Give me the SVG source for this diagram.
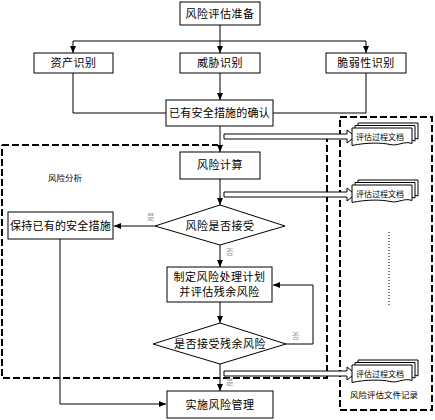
<svg xmlns="http://www.w3.org/2000/svg" xmlns:xlink="http://www.w3.org/1999/xlink" width="435" height="420" viewBox="0 0 435 420">
<style>
.box{fill:#fff;stroke:#000;stroke-width:1}
.t{font-family:"Noto Sans CJK SC","Noto Sans",sans-serif;font-size:11px;letter-spacing:0.5px;text-anchor:middle;fill:#000}
.ts{font-family:"Noto Sans CJK SC","Noto Sans",sans-serif;font-size:8px;text-anchor:middle;fill:#000}
.tl{font-family:"Noto Sans CJK SC","Noto Sans",sans-serif;font-size:7.5px;fill:#999}
.ln{fill:none;stroke:#000;stroke-width:1}
.arr{marker-end:url(#ah)}
.dash{fill:none;stroke:#000;stroke-width:2;stroke-dasharray:7,3}
.blk{fill:#fff;stroke:#000;stroke-width:1}
.pg{fill:#fff;stroke:#000;stroke-width:1}
</style>
<defs>
<marker id="ah" markerWidth="8" markerHeight="8" refX="7" refY="4" orient="auto" markerUnits="userSpaceOnUse">
<path d="M0,1 L7,4 L0,7 Z" fill="#000"/>
</marker>
<g id="doc">
<path class="pg" d="M6,-5 H66 V11 C58,8 52,14 44,12 S20,10 6,13 Z"/>
<path class="pg" d="M3,-2.5 H63 V13 C55,10 49,16 41,14 S17,12 3,15 Z"/>
<path class="pg" d="M0,0 H60 V15.5 C52,12.5 46,18.5 38,16.5 S14,14.5 0,17.5 Z"/>
</g>
</defs>
<rect width="435" height="420" fill="#fff"/>

<g id="regions">
<path class="dash" d="M2,145 H218 M224,138 H327 V378 H2 V145"/>
<rect class="dash" x="340" y="117" width="92" height="293"/>
<text x="65" y="181" class="ts" style="font-size:8.5px">风险分析</text>
<text x="384" y="398" class="ts" style="font-size:8.5px">风险评估文件记录</text>
<line x1="389" y1="232" x2="389" y2="305" stroke="#000" stroke-width="1" stroke-dasharray="1,2"/>
</g>

<g id="connectors">
<line class="ln arr" x1="220" y1="25" x2="220" y2="53"/>
<polyline class="ln arr" points="220,41 73,41 73,53"/>
<polyline class="ln arr" points="220,41 366,41 366,53"/>
<polyline class="ln" points="73,73 73,113 166,113"/>
<polyline class="ln" points="366,73 366,113 273,113"/>
<line class="ln arr" x1="220" y1="73" x2="220" y2="100"/>
<line class="ln arr" x1="220" y1="126" x2="220" y2="152"/>
<line class="ln arr" x1="220" y1="179" x2="220" y2="205"/>
<line class="ln arr" x1="155" y1="226" x2="114" y2="226"/>
<line class="ln arr" x1="220" y1="245" x2="220" y2="267"/>
<line class="ln arr" x1="220" y1="302" x2="220" y2="323"/>
<polyline class="ln arr" points="286,344 313,344 313,285 273,285"/>
<line class="ln arr" x1="220" y1="364" x2="220" y2="391"/>
<polyline class="ln arr" points="60,239 60,404 166,404"/>
<path class="blk" d="M224,134 H347 V130 L355,136.5 L347,143 V139 H224 Z"/>
<path class="blk" d="M224,192 H347 V188 L355,194.5 L347,201 V197 H224 Z"/>
<path class="blk" d="M224,371 H347 V367 L355,373.5 L347,380 V376 H224 Z"/>
<text x="147" y="220" class="tl">是</text>
<text x="226" y="255" class="tl">否</text>
<text x="292" y="339" class="tl">否</text>
<text x="226" y="385" class="tl">是</text>
</g>

<g id="n-prep"><rect class="box" x="180" y="2" width="80" height="23"/><text x="220" y="18" class="t">风险评估准备</text></g>
<g id="n-asset"><rect class="box" x="34" y="53" width="79" height="20"/><text x="73.5" y="67" class="t">资产识别</text></g>
<g id="n-threat"><rect class="box" x="180" y="53" width="80" height="20"/><text x="220" y="67" class="t">威胁识别</text></g>
<g id="n-vuln"><rect class="box" x="326" y="53" width="80" height="20"/><text x="366" y="67" class="t">脆弱性识别</text></g>
<g id="n-confirm"><rect class="box" x="166" y="100" width="107" height="26"/><text x="219.5" y="117" class="t" style="letter-spacing:0.2px">已有安全措施的确认</text></g>
<g id="n-calc"><rect class="box" x="180" y="152" width="80" height="27"/><text x="220" y="169" class="t">风险计算</text></g>
<g id="n-accept"><polygon class="box" points="155,226 220,205 285,226 220,245"/><text x="220" y="230" class="t">风险是否接受</text></g>
<g id="n-keep"><rect class="box" x="8" y="212" width="105" height="27"/><text x="60.5" y="230" class="t" style="letter-spacing:0.2px">保持已有的安全措施</text></g>
<g id="n-plan"><rect class="box" x="167" y="267" width="105" height="35"/><text x="219.5" y="281" class="t">制定风险处理计划</text><text x="219.5" y="296" class="t">并评估残余风险</text></g>
<g id="n-residual"><polygon class="box" points="153,344 220,323 286,344 220,364"/><text x="220" y="348" class="t">是否接受残余风险</text></g>
<g id="n-impl"><rect class="box" x="167" y="391" width="106" height="27"/><text x="220" y="409" class="t">实施风险管理</text></g>

<g id="d1"><use xlink:href="#doc" x="352" y="128"/><text x="380" y="140" class="ts">评估过程文档</text></g>
<g id="d2"><use xlink:href="#doc" x="352" y="185"/><text x="380" y="197" class="ts">评估过程文档</text></g>
<g id="d3"><use xlink:href="#doc" x="352" y="365"/><text x="380" y="377" class="ts">评估过程文档</text></g>
</svg>
